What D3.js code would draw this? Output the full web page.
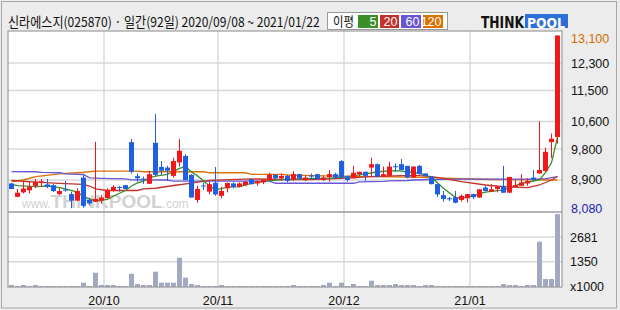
<!DOCTYPE html>
<html>
<head>
<meta charset="utf-8">
<script src="https://cdn.jsdelivr.net/npm/d3@7"></script>
<style>
body { margin: 0; background: #ececec; }
svg { display: block; }
</style>
</head>
<body>
<svg id="chart" width="620" height="310"></svg>
<script>
// trading days shown (92)
const dates = [
  '2020-09-08','2020-09-09','2020-09-10','2020-09-11','2020-09-14','2020-09-15','2020-09-16','2020-09-17','2020-09-18',
  '2020-09-21','2020-09-22','2020-09-23','2020-09-24','2020-09-25','2020-09-28','2020-09-29',
  '2020-10-05','2020-10-06','2020-10-07','2020-10-08','2020-10-12','2020-10-13','2020-10-14','2020-10-15','2020-10-16',
  '2020-10-19','2020-10-20','2020-10-21','2020-10-22','2020-10-23','2020-10-26','2020-10-27','2020-10-28','2020-10-29','2020-10-30',
  '2020-11-02','2020-11-03','2020-11-04','2020-11-05','2020-11-06','2020-11-09','2020-11-10','2020-11-11','2020-11-12','2020-11-13',
  '2020-11-16','2020-11-17','2020-11-18','2020-11-19','2020-11-20','2020-11-23','2020-11-24','2020-11-25','2020-11-26','2020-11-27','2020-11-30',
  '2020-12-01','2020-12-02','2020-12-03','2020-12-04','2020-12-07','2020-12-08','2020-12-09','2020-12-10','2020-12-11',
  '2020-12-14','2020-12-15','2020-12-16','2020-12-17','2020-12-18','2020-12-21','2020-12-22','2020-12-23','2020-12-24',
  '2020-12-28','2020-12-29','2020-12-30',
  '2021-01-04','2021-01-05','2021-01-06','2021-01-07','2021-01-08','2021-01-11','2021-01-12','2021-01-13','2021-01-14','2021-01-15',
  '2021-01-18','2021-01-19','2021-01-20','2021-01-21','2021-01-22'
];

const open = [8800,8410,8540,8600,8730,8840,8770,8750,8490,8620,8490,8300,8970,8320,8270,8300,8370,8580,8700,8750,
  10000,9010,8940,8790,9980,9280,9260,9020,9410,9600,9050,8320,8740,8560,8820,8440,8660,8800,8700,8750,
  8920,8800,8830,8900,9050,8950,9020,8910,9070,8900,9030,9070,8900,8980,9070,9450,9000,8950,9070,9140,
  9260,9360,9000,9020,9300,9360,9310,8970,9310,9090,9000,8780,8460,8370,8400,8320,8370,8490,8390,8680,
  8560,8640,8730,8530,8690,8730,8800,8970,9090,9160,10000,10150];
const high = [8810,8640,8870,8850,8930,8930,8930,8780,8660,8870,8560,8660,9050,8390,10010,8460,8660,8750,8720,8760,
  10090,9090,9000,9170,10820,9450,9310,9550,10090,9650,9070,8730,8830,8850,9280,8700,8830,8830,8830,8870,
  8930,8880,8920,9110,9070,9090,9050,9160,9080,9020,9090,9080,9020,9190,9110,9480,9030,9310,9140,9140,
  9550,9380,9290,9430,9380,9510,9310,9300,9340,9100,9000,8790,8580,8410,8580,8480,8490,8500,8630,8730,
  8780,8730,9310,8990,8900,9070,8950,9190,10600,9840,10250,13100];
const low = [8630,8400,8510,8510,8660,8700,8660,8550,8460,8560,8080,8290,8100,8170,8260,8220,8370,8560,8560,8640,
  9090,8850,8780,8780,9000,9050,8870,8970,9290,8900,8390,8240,8610,8480,8440,8370,8540,8660,8680,8720,
  8770,8730,8780,8870,8920,8870,8830,8870,8900,8870,8900,8900,8870,8850,8930,8970,8850,8950,9000,8870,
  9000,8970,9000,8990,9140,9180,8950,8960,9060,9000,8770,8410,8270,8290,8220,8270,8250,8340,8390,8570,
  8550,8540,8530,8530,8690,8720,8730,8880,9090,9150,9540,9960];
const close = [8640,8530,8650,8700,8850,8860,8700,8580,8580,8600,8300,8580,8150,8220,8350,8390,8610,8700,8680,8640,
  9140,8950,8920,9070,9050,9170,9170,9450,9750,8900,8390,8640,8730,8780,8480,8580,8810,8700,8800,8850,
  8780,8870,8900,9050,8950,9020,8870,9070,8950,8970,9010,8930,8970,9070,8970,8970,8900,9110,9140,9020,
  9360,9000,9070,9290,9280,9190,8970,9290,9070,9020,8780,8480,8350,8360,8240,8440,8490,8400,8630,8580,
  8630,8710,8530,8990,8750,8830,8870,8900,9190,9720,10100,13100];

// volume, x1000 shares
const volume = [107,54,107,54,107,54,54,54,54,54,54,54,
  230,54,765,107,107,107,54,54,710,160,107,107,820,230,230,230,1570,500,160,107,54,54,54,107,
  54,54,54,54,54,54,54,54,54,54,54,
  107,54,54,54,54,107,230,54,230,54,160,54,54,340,107,107,107,160,107,107,107,54,107,107,
  54,54,54,54,54,54,54,54,54,54,54,
  160,107,107,54,107,107,2430,430,430,3910];

// moving averages: [day index, price]
const ma5 = [[0,8775],[1,8735],[4,8705],[6,8725],[8,8680],[9,8640],[11,8545],[12,8415],[14,8290],[16,8335],[17,8435],
  [19,8595],[20,8725],[21,8815],[22,8870],[23,8960],[24,9015],[26,9065],[28,9235],[29,9290],[30,9130],[31,9020],
  [32,8880],[33,8720],[34,8620],[35,8650],[36,8690],[38,8705],[40,8805],[43,8880],[46,8920],[50,8950],[53,8950],
  [56,8995],[59,9075],[61,9140],[64,9170],[66,9140],[68,9095],[70,8975],[72,8660],[74,8390],[75,8370],[77,8445],
  [79,8550],[82,8610],[85,8800],[87,8870],[88,8900],[89,9120],[90,9400],[91,10150]];
const ma20 = [[0,8885],[4,8840],[8,8800],[12,8770],[13,8725],[14,8640],[16,8595],[21,8595],[22,8640],[24,8660],
  [27,8740],[30,8810],[33,8890],[40,8930],[46,8915],[50,8915],[55,8945],[60,9000],[65,9025],[68,9025],[70,9000],
  [72,8945],[75,8850],[79,8755],[82,8705],[86,8680],[88,8755],[90,8900],[91,9000]];
const ma60 = [[0,9145],[4,9140],[5,9120],[8,9110],[9,9075],[12,9060],[13,8960],[15,8945],[19,8930],[20,8905],
  [26,8900],[27,8870],[43,8870],[44,8805],[57,8805],[58,8845],[62,8860],[63,8875],[66,8885],[67,8900],[70,8915],
  [75,8925],[87,8925],[89,8940],[91,9000]];
const ma120 = [[0,8850],[2,8900],[4,9000],[8,9075],[12,9125],[14,9160],[21,9160],[22,9140],[32,9140],[33,9110],
  [39,9110],[40,9065],[45,9065],[46,9045],[50,9030],[60,9000],[67,8985],[72,8955],[80,8915],[91,8900]];

const priceTicks = [12300, 11500, 10600, 9800, 8900];
const volumeTicks = [1350, 2681];
const title = '신라에스지(025870) · 일간(92일) 2020/09/08 ~ 2021/01/22';
const maNames = ['5', '20', '60', '120'];
const maColors = ['#3b8e2a', '#c4312b', '#6856d8', '#de7000'];

const plotLeft = 8, plotRight = 562, plotTop = 31, plotMid = 212, plotBottom = 287;
const upColor = '#f01818', downColor = '#1f5fe3';
const fmt = d3.format(',');

const svg = d3.select('#chart');

// squeeze a text horizontally so it spans the given width
function fitText(sel, x0, y0, width) {
  const len = sel.node().getComputedTextLength();
  sel.attr('transform', `translate(${x0},${y0}) scale(${width / len},1)`);
}

// frame
svg.append('rect').attr('x', 1.5).attr('y', 1.5).attr('width', 615).attr('height', 306.5)
  .attr('fill', '#ececec').attr('stroke', '#a5a5a5');
svg.append('rect').attr('x', plotLeft).attr('y', plotTop).attr('width', plotRight - plotLeft).attr('height', plotBottom - plotTop)
  .attr('fill', '#fff');

const x = d3.scaleBand().domain(d3.range(dates.length)).range([8, 560]);
const y = d3.scaleLinear().domain([7970, 13230]).range([plotMid, plotTop]);
const yv = d3.scaleLinear().domain([0, 4022]).range([plotBottom, plotMid]);

// grid
const grid = svg.append('g').attr('stroke', '#d8d8d8').attr('stroke-width', 1.5);
grid.selectAll('.hp').data(priceTicks).join('line')
  .attr('x1', plotLeft).attr('x2', plotRight).attr('y1', d => y(d)).attr('y2', d => y(d));
grid.selectAll('.hv').data(volumeTicks).join('line')
  .attr('x1', plotLeft).attr('x2', plotRight).attr('y1', d => yv(d)).attr('y2', d => yv(d));

const monthStarts = d3.range(1, dates.length).filter(i => dates[i].slice(0, 7) !== dates[i - 1].slice(0, 7));
grid.selectAll('.v').data(monthStarts).join('line')
  .attr('x1', d => x(d)).attr('x2', d => x(d)).attr('y1', plotTop).attr('y2', plotBottom);

// watermark
const wm = svg.append('text').attr('x', 22).attr('y', 208).attr('fill', '#d2d2d2')
  .attr('font-family', 'Liberation Sans, Arial, sans-serif');
wm.append('tspan').attr('font-size', 12).text('www.');
wm.append('tspan').attr('font-size', 19).attr('font-weight', 'bold').text('THINKPOOL');
wm.append('tspan').attr('font-size', 12).text('.com');

// moving averages
const line = d3.line().x(d => x(d[0]) + 3.5).y(d => y(d[1]));
[ma120, ma60, ma20, ma5].forEach((m, k) => {
  svg.append('path').datum(m).attr('d', line).attr('fill', 'none')
    .attr('stroke', maColors[3 - k]).attr('stroke-width', 1.3);
});

// candles
const candles = svg.append('g').selectAll('g').data(d3.range(dates.length)).join('g');
candles.append('line')
  .attr('x1', i => x(i) + 3.5).attr('x2', i => x(i) + 3.5)
  .attr('y1', i => y(high[i])).attr('y2', i => y(low[i]))
  .attr('stroke', i => close[i] >= open[i] ? upColor : downColor).attr('stroke-width', 1);
candles.append('rect')
  .attr('x', i => x(i) + 1).attr('width', 5)
  .attr('y', i => y(Math.max(open[i], close[i])))
  .attr('height', i => Math.max(1, Math.abs(y(open[i]) - y(close[i]))))
  .attr('fill', i => close[i] >= open[i] ? upColor : downColor);

// volume bars
svg.append('g').selectAll('rect').data(volume).join('rect')
  .attr('x', (d, i) => x(i) + 1).attr('width', 5)
  .attr('y', d => yv(d)).attr('height', d => plotBottom - yv(d))
  .attr('fill', '#a2aac2');

// panel borders
svg.append('rect').attr('x', plotLeft).attr('y', plotTop).attr('width', plotRight - plotLeft).attr('height', plotBottom - plotTop)
  .attr('fill', 'none').attr('stroke', '#9c9c9c').attr('stroke-width', 1.2);
svg.append('line').attr('x1', plotLeft).attr('x2', plotRight).attr('y1', plotMid).attr('y2', plotMid)
  .attr('stroke', '#9c9c9c').attr('stroke-width', 1.5);

// right axis labels
const axisFont = 'Liberation Sans, Arial, sans-serif';
const priceLabels = [{v: d3.max(high), c: '#d46a00'}]
  .concat(priceTicks.map(v => ({v, c: '#111'})))
  .concat([{v: d3.min(low), c: '#1a1ab8'}]);
svg.append('g').selectAll('text').data(priceLabels).join('text')
  .attr('x', 571).attr('y', d => Math.max(38, y(d.v))).attr('dy', '0.36em')
  .attr('font-family', axisFont).attr('font-size', 12.5).attr('fill', d => d.c)
  .text(d => fmt(d.v));
svg.append('g').selectAll('text').data(volumeTicks).join('text')
  .attr('x', 570).attr('y', d => yv(d)).attr('dy', '0.36em')
  .attr('font-family', axisFont).attr('font-size', 12.5).attr('fill', '#111')
  .text(d => d);
svg.append('text').attr('x', 570).attr('y', 286).attr('dy', '0.36em')
  .attr('font-family', axisFont).attr('font-size', 12.5).attr('fill', '#111').text('x1000');

// x labels
svg.append('g').selectAll('text').data(monthStarts).join('text')
  .attr('x', d => x(d)).attr('y', 300).attr('dy', '0.36em').attr('text-anchor', 'middle')
  .attr('font-family', axisFont).attr('font-size', 12.5).attr('fill', '#111')
  .text(d => dates[d].slice(2, 4) + '/' + dates[d].slice(5, 7));

// title
const titleText = svg.append('text')
  .attr('font-family', '"Noto Sans CJK KR", sans-serif').attr('font-size', 13.5).attr('fill', '#111')
  .text(title);
fitText(titleText, 8, 26.5, 312);

// MA legend
svg.append('rect').attr('x', 327.5).attr('y', 12.5).attr('width', 120).attr('height', 17)
  .attr('fill', '#fff').attr('stroke', '#9a9a9a');
const legTitle = svg.append('text').attr('font-family', '"Noto Sans CJK KR", sans-serif')
  .attr('font-size', 13).attr('fill', '#111').text('이평');
fitText(legTitle, 333, 26, 21);
const boxX = [358, 380, 401, 423], boxW = [20, 19, 20, 20];
const lg = svg.append('g').selectAll('g').data(maNames).join('g');
lg.append('rect').attr('x', (d, i) => boxX[i]).attr('y', 15).attr('width', (d, i) => boxW[i]).attr('height', 13)
  .attr('fill', (d, i) => maColors[i]);
lg.append('text').attr('x', (d, i) => boxX[i] + boxW[i] - 1.5).attr('y', 26).attr('text-anchor', 'end')
  .attr('font-family', axisFont).attr('font-size', 12.5).attr('fill', '#fff').text(d => d);

// logo
const think = svg.append('text').attr('font-family', 'DejaVu Sans, sans-serif')
  .attr('font-size', 15).attr('font-weight', 'bold').attr('fill', '#111').text('THINK');
fitText(think, 481, 28, 43);
svg.append('rect').attr('x', 525).attr('y', 14).attr('width', 43).attr('height', 14).attr('fill', '#2d6fd8');
const pool = svg.append('text').attr('font-family', 'DejaVu Sans, sans-serif')
  .attr('font-size', 14).attr('font-weight', 'bold').attr('fill', '#fff').text('POOL');
fitText(pool, 527, 27.5, 38);
</script>
</body>
</html>
